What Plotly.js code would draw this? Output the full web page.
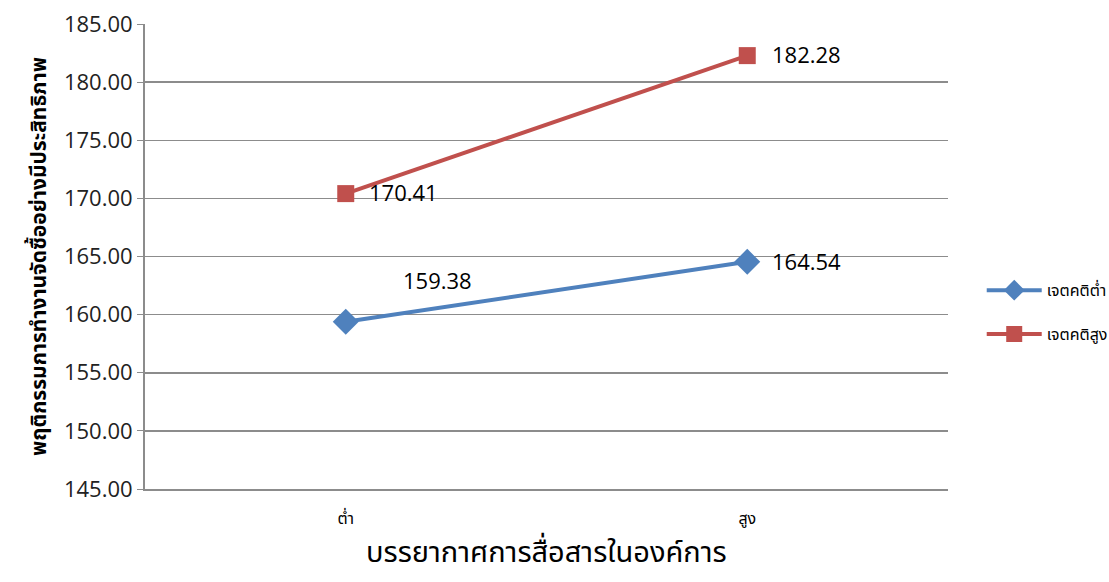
<!DOCTYPE html>
<html>
<head>
<meta charset="utf-8">
<script src="https://cdn.plot.ly/plotly-3.0.1.min.js"></script>
<style>
  html, body { margin: 0; padding: 0; background: #fff; }
  #chart { width: 1109px; height: 582px; }
</style>
</head>
<body>
<div id="chart"></div>
<script>
// Communication climate levels (x categories)
const categories = ["ต่ำ", "สูง"];

// Series: attitude groups
const seriesNames = ["เจตคติต่ำ", "เจตคติสูง"];
const lowAttitude = [159.38, 164.54];
const highAttitude = [170.41, 182.28];

// Y axis ticks
const yTicks = [145, 150, 155, 160, 165, 170, 175, 180, 185];
const yTickLabels = yTicks.map(v => v.toFixed(2));

const xTitle = "บรรยากาศการสื่อสารในองค์การ";
const yTitle = "พฤติกรรมการทำงานจัดซื้ออย่างมีประสิทธิภาพ";

const blue = "#4F81BD";
const red = "#C0504D";
const thaiFont = "Noto Sans Thai, Noto Sans, Tahoma, DejaVu Sans, sans-serif";
const numFont = "Open Sans, Liberation Sans, sans-serif";

const traces = [
  {
    x: categories, y: lowAttitude, name: seriesNames[0], legendgroup: "low",
    type: "scatter", mode: "lines+markers",
    line: { color: blue, width: 4 },
    marker: { symbol: "diamond", size: 20, color: blue }
  },
  {
    x: categories, y: highAttitude, name: seriesNames[1], legendgroup: "high",
    type: "scatter", mode: "lines+markers",
    line: { color: red, width: 4 },
    marker: { symbol: "square", size: 17, color: red }
  }
];

// Value labels beside each point
const labelShifts = [
  [[92, 42], [59, 1]],
  [[58, 2], [59, 2]]
];
const annotations = [];
[lowAttitude, highAttitude].forEach((vals, si) => {
  vals.forEach((v, i) => {
    annotations.push({
      x: categories[i], y: v, xref: "x", yref: "y",
      text: v.toFixed(2), showarrow: false,
      xshift: labelShifts[si][i][0], yshift: labelShifts[si][i][1],
      font: { family: numFont, size: 22, color: "#000" }
    });
  });
});

// Horizontal axis title, placed below the category labels
annotations.push({
  x: 0.5, y: -0.138, xref: "paper", yref: "paper",
  xanchor: "center", yanchor: "middle", showarrow: false,
  text: xTitle,
  font: { family: thaiFont, size: 29, color: "#000" }
});

const layout = {
  width: 1109, height: 582,
  margin: { l: 145, r: 161, t: 24, b: 93, autoexpand: false },
  paper_bgcolor: "#fff", plot_bgcolor: "#fff",
  showlegend: true,
  legend: {
    x: 1.042, y: 0.38, xanchor: "left", yanchor: "middle",
    font: { family: thaiFont, size: 16, color: "#000" },
    itemwidth: 55, tracegroupgap: 20
  },
  xaxis: {
    type: "category", range: [-0.5, 1.5],
    showline: true, linecolor: "#8c8c8c", linewidth: 2,
    showgrid: false, ticks: "", zeroline: false,
    ticklabelstandoff: 14,
    tickfont: { family: thaiFont, size: 16, color: "#000" }
  },
  yaxis: {
    range: [145, 185], tickvals: yTicks, ticktext: yTickLabels,
    showline: true, linecolor: "#8c8c8c", linewidth: 2,
    ticks: "outside", ticklen: 6, tickcolor: "#8c8c8c", tickwidth: 1,
    showgrid: true, gridcolor: "#8c8c8c", gridwidth: 1.5, zeroline: false,
    tickfont: { family: numFont, size: 22, color: "#222" },
    title: { text: "<b>" + yTitle + "</b>", standoff: 12,
             font: { family: thaiFont, size: 21, color: "#000" } }
  },
  annotations: annotations
};

Plotly.newPlot("chart", traces, layout, { displayModeBar: false, staticPlot: true });
</script>
</body>
</html>
